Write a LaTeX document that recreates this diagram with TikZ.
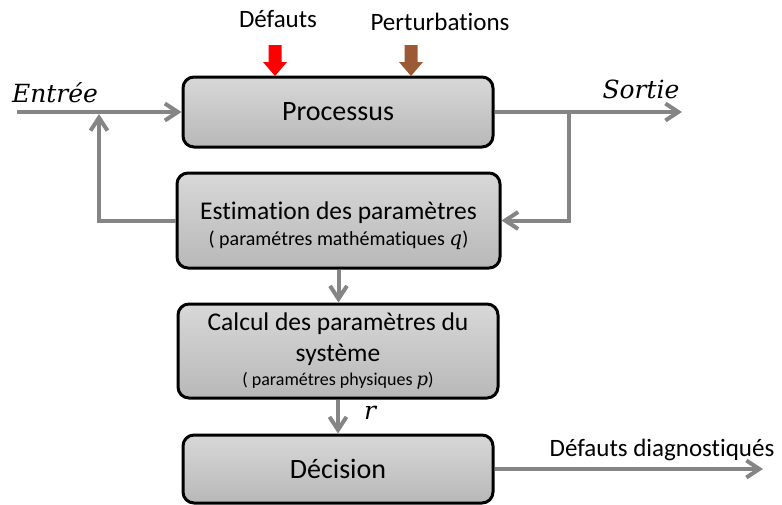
\documentclass[tikz,border=0pt]{standalone}
\usepackage{fontspec}
\setmainfont{Carlito}[Ligatures=NoCommon]
\newfontfamily\varfont{DejaVu Serif}
\usetikzlibrary{arrows.meta}
\definecolor{boxtop}{RGB}{216,216,216}
\definecolor{boxbottom}{RGB}{184,184,184}
\definecolor{flowgray}{RGB}{133,133,133}
\definecolor{brownarrow}{RGB}{156,90,52}
\newcommand{\var}[1]{{\varfont\itshape #1}}

\begin{document}
\begin{tikzpicture}[x=1pt,y=-1pt,
  blockbox/.style={draw=black, line width=3pt, rounded corners=11pt, top color=boxtop, bottom color=boxbottom, align=center, inner sep=0pt},
  flow/.style={draw=flowgray, line width=4pt, -{Straight Barb[length=13pt,width=17pt]}},
  lbl/.style={inner sep=0pt}]
\def\bigfont{\fontsize{28}{34}\selectfont}
\def\midfont{\fontsize{25.5}{30}\selectfont}
\def\smallfont{\fontsize{20}{30}\selectfont}
\def\tinyfont{\fontsize{18}{27}\selectfont}
\def\labelfont{\fontsize{25}{30}\selectfont}
\def\mathfont{\fontsize{25}{30}\selectfont}
\def\shaft{6.5}
\def\head{12}
\useasboundingbox (0,0) rectangle (782,504);

% BOXES
\node[blockbox, minimum width=310pt, minimum height=70pt] (proc) at (338,112) {\bigfont Processus};
\node[blockbox, minimum width=323pt, minimum height=95pt] (est) at (338.5,220.5)
  {\midfont\rule{0pt}{28pt}Estimation des paramètres\\[7pt] \smallfont ( paramétres mathématiques \var{q})};
\node[blockbox, minimum width=320pt, minimum height=94pt] (calc) at (338,351)
  {\midfont Calcul des paramètres du\\[8pt] \midfont système\\[6pt] \tinyfont ( paramétres physiques \var{p})};
\node[blockbox, minimum width=310pt, minimum height=68pt] (dec) at (338,469) {\bigfont Décision};

% LABELS
\node[lbl] (def) at (278,19) {\labelfont Défauts};
\node[lbl] (pert) at (440,22) {\labelfont Perturbations};
\node[lbl] (entree) at (55,93) {\mathfont \var{Entrée}};
\node[lbl] (sortie) at (641,89) {\mathfont \var{Sortie}};
\node[lbl] (rlbl) at (370,413) {\mathfont \var{r}};
\node[lbl] (diaglbl) at (662,450) {\labelfont Défauts diagnostiqués};

% INPUTS ON THE PROCESS
\begin{scope}[shift={(275,0)}] % DEFAUTS ARROW
\fill[red] (-\shaft,45) -- (\shaft,45) -- (\shaft,62) -- (\head,62) -- (0,76) -- (-\head,62) -- (-\shaft,62) -- cycle;
\end{scope}

\begin{scope}[shift={(411,0)}] % PERTURBATIONS ARROW
\fill[brownarrow] (-\shaft,45) -- (\shaft,45) -- (\shaft,62) -- (\head,62) -- (0,76) -- (-\head,62) -- (-\shaft,62) -- cycle;
\end{scope}

% CONNECTORS
\coordinate (in) at (17,112);
\coordinate (out) at (682,112);
\coordinate (br) at (569,112);
\coordinate (join) at (99,114);
\coordinate (diag) at (763,469);

\draw[flow] (in) -- (proc.west);
\draw[flow] (proc.east) -- (out);
\draw[flow] (br) |- (est.east);
\draw[flow] (est.west) -| (join);
\draw[flow] (est.south) -- (est.south |- calc.north);
\draw[flow] (calc.south) -- (dec.north);
\draw[flow] (dec.east) -- (diag);
\end{tikzpicture}
\end{document}
